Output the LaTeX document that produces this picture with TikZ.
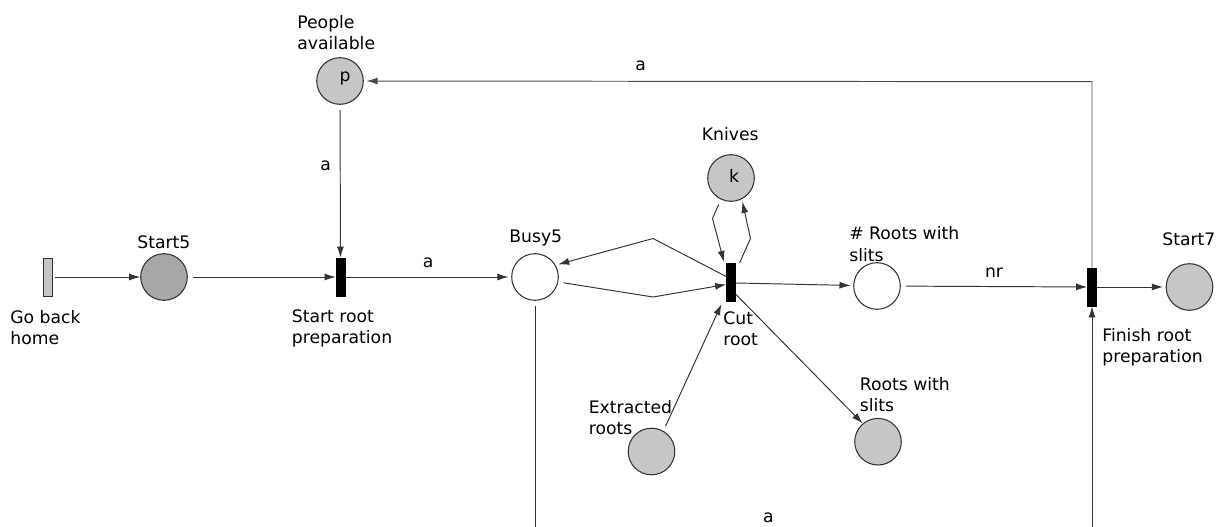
\documentclass[tikz,border=0pt]{standalone}
\usepackage{fontspec}
\setmainfont{DejaVu Sans}
\usetikzlibrary{arrows.meta}
\definecolor{edgecol}{HTML}{333333}
\definecolor{darkfill}{HTML}{A8A8A8}
\definecolor{lightfill}{HTML}{C6C6C6}
\tikzset{
  place/.style={circle, draw=edgecol, line width=0.6pt, minimum size=46.6*0.02cm, inner sep=0pt},
  trans/.style={rectangle, draw=black, fill=black, minimum width=9*0.02cm, minimum height=38*0.02cm, inner sep=0pt},
  arc/.style={draw=edgecol, line width=0.55pt, -{Latex[length=6.3pt,width=4pt]}},
  fromp/.style={shorten <=3pt},
  top/.style={shorten >=1.5pt},
  plain/.style={draw=edgecol, line width=0.55pt},
  lbl/.style={inner sep=0pt, font=\fontsize{9.8}{12.2}\selectfont, align=left, text=black},
}
\begin{document}
\begin{tikzpicture}[x=0.02cm, y=-0.02cm]
\useasboundingbox (0,0) rectangle (1227,527);
% transitions
\node[rectangle, draw=edgecol, fill=lightfill, line width=0.5pt, minimum width=9*0.02cm, minimum height=38*0.02cm, inner sep=0pt] (gbh) at (47.5,277) {};
\node[trans] (srp) at (340.5,277) {};
\node[trans] (cut) at (731,282.5) {};
\node[trans] (frp) at (1092,287) {};
% places
\node[place, fill=darkfill] (s5) at (164,277) {};
\node[place, fill=lightfill] (pa) at (340,81) {};
\node[lbl] at (345,78) {p};
\node[place, fill=white] (busy) at (535,277) {};
\node[place, fill=lightfill] (kn) at (731,178) {};
\node[lbl] at (734,176) {k};
\node[place, fill=white] (rws) at (877,286) {};
\node[place, fill=lightfill] (s7) at (1189.5,287) {};
\node[place, fill=lightfill] (ext) at (651.5,451.5) {};
\node[place, fill=lightfill] (rws2) at (878,441.7) {};
% labels
\node[lbl, anchor=north west] (lgbh) at (10,310) {Go back\\home};
\node[lbl, anchor=base west] (ls5) at (137,248) {Start5};
\node[lbl, anchor=north west] (lpa) at (297,15) {People\\available};
\node[lbl, anchor=north west] (lsrp) at (291.5,309) {Start root\\preparation};
\node[lbl, anchor=base west] (lbusy) at (509,242.7) {Busy5};
\node[lbl, anchor=base west] (lkn) at (701.5,140) {Knives};
\node[lbl, anchor=north west] (lcut) at (723,311) {Cut\\root};
\node[lbl, anchor=north west] (lrws) at (849,226.5) {\# Roots with\\slits};
\node[lbl, anchor=north west] (lfrp) at (1102,328) {Finish root\\preparation};
\node[lbl, anchor=base west] (ls7) at (1162,245) {Start7};
\node[lbl, anchor=north west] (lext) at (588.5,400) {Extracted\\roots};
\node[lbl, anchor=north west] (lrws2) at (859.5,377) {Roots with\\slits};
% arcs
\draw[arc, shorten <=1.5pt] (gbh) -- (s5);
\draw[arc, fromp] (s5) -- (srp);
\draw[arc, fromp] (pa) -- node[lbl, left=5pt, pos=0.4] {a} (srp);
\draw[arc, top] (srp) -- node[lbl, above=5pt] {a} (busy);
\coordinate (kb) at (653,297);
\coordinate (kt) at (653,238.5);
\draw[arc, fromp] (busy.-12) -- (kb) -- (cut.west |- 0,284.5);
\draw[arc, top] (cut.west |- 0,276.5) -- (kt) -- (busy.30);
\coordinate (kl) at (712.5,218.5);
\coordinate (kr) at (750.5,238.5);
\draw[arc, fromp] (kn.-115) -- (kl) -- (724,262);
\draw[arc, top] (739.5,263) -- (kr) -- (kn.-63);
\draw[arc, top] (cut.east |- 0,283) -- (rws);
\draw[arc, fromp] (rws) -- node[lbl, above=5pt] {nr} (frp);
\draw[arc, top] (frp) -- (s7);
\draw[arc, fromp] (ext.60) -- (721.5,304);
\draw[arc] (735.5,294) -- (rws2.130);
\coordinate (tr) at (1092,81.7);
\draw[arc, top, draw=black!70] (frp.north) -- (tr) -- node[lbl, above=6pt, pos=0.62] {a} (pa);
\coordinate (bl) at (535,527);
\coordinate (br) at (1092,527);
\draw[plain, shorten <=3pt] (busy) -- (bl);
\draw[arc] (br) -- (frp);
\node[lbl, anchor=base] (la) at (768.5,522.3) {a};
\end{tikzpicture}
\end{document}
